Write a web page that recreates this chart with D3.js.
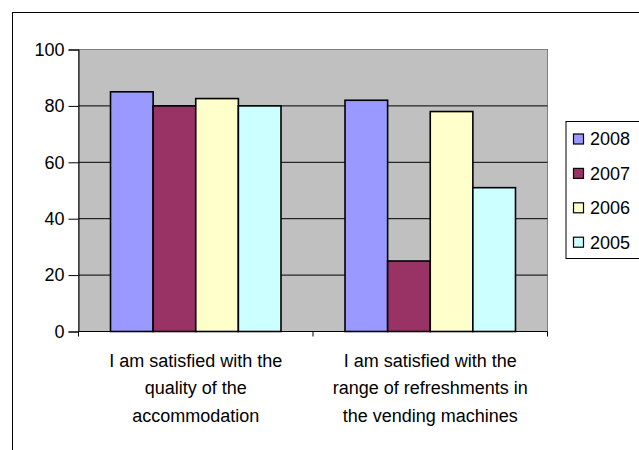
<!DOCTYPE html>
<html>
<head>
<meta charset="utf-8">
<script src="https://cdn.jsdelivr.net/npm/d3@7"></script>
<style>
	body { margin: 0; background: #fff; }
	text { font-family: Arial, "Liberation Sans", sans-serif; fill: #000; }
</style>
</head>
<body>
<div id="chart-area"></div>
<script>
// survey answers, % satisfied
var categories = ['I am satisfied with the|quality of the|accommodation',
	'I am satisfied with the|range of refreshments in|the vending machines'];
var years = ['2008', '2007', '2006', '2005'];
var values2008 = [85, 82];
var values2007 = [80, 25];
var values2006 = [82.6, 78];
var values2005 = [80, 51];
var yTicks = [0, 20, 40, 60, 80, 100];

var seriesValues = [values2008, values2007, values2006, values2005];
var colors = ['#9999FF', '#993366', '#FFFFCC', '#CCFFFF'];

var width = 639;
var height = 450;

var svg = d3.select('#chart-area')
	.append('svg')
	.attr('width', width)
	.attr('height', height);

// chart area border (runs off the picture right and bottom)
svg.append('rect')
	.attr('x', 12.5)
	.attr('y', 12.5)
	.attr('width', 700)
	.attr('height', 500)
	.attr('fill', '#fff')
	.attr('stroke', '#000')
	.attr('stroke-width', 1);

var plot = { left: 78.5, top: 49.5, right: 547.5, bottom: 331.5 };
var plotW = plot.right - plot.left;
var plotH = plot.bottom - plot.top;

var x0 = d3.scaleBand()
	.domain(categories)
	.range([0, plotW])
	.paddingInner(0.273)
	.paddingOuter(0.1365);

var x1 = d3.scaleBand()
	.domain(years)
	.range([0, x0.bandwidth()]);

var y = d3.scaleLinear()
	.domain([0, 100])
	.range([plotH, 0]);

var g = svg.append('g')
	.attr('transform', 'translate(' + plot.left + ',' + plot.top + ')');

g.append('rect')
	.attr('width', plotW)
	.attr('height', plotH)
	.attr('fill', '#C0C0C0')
	.attr('stroke', '#808080')
	.attr('stroke-width', 1);

// gridlines
g.append('g')
	.selectAll('line')
	.data(yTicks.filter(d => d > 0 && d < 100))
	.enter()
		.append('line')
		.attr('x1', 0)
		.attr('x2', plotW)
		.attr('y1', d => y(d))
		.attr('y2', d => y(d))
		.attr('stroke', '#000')
		.attr('stroke-width', 1);

// bars
var table = categories.map((c, i) => ({
	category: c,
	bars: years.map((yr, j) => ({ year: yr, value: seriesValues[j][i], color: colors[j] }))
}));

g.append('g')
	.selectAll('g')
	.data(table)
	.enter()
		.append('g')
		.attr('transform', d => 'translate(' + x0(d.category) + ',0)')
		.selectAll('rect')
		.data(d => d.bars)
		.enter()
			.append('rect')
			.attr('x', d => x1(d.year))
			.attr('y', d => y(d.value))
			.attr('width', x1.bandwidth())
			.attr('height', d => plotH - y(d.value))
			.attr('fill', d => d.color)
			.attr('stroke', '#000')
			.attr('stroke-width', 1.6);

// y axis
var yAxis = d3.axisLeft(y)
	.tickValues(yTicks)
	.tickSize(10)
	.tickPadding(4)
	.tickFormat(d3.format('d'));

var yG = g.append('g').call(yAxis);
yG.select('.domain').attr('stroke', '#000');
yG.selectAll('text')
	.attr('font-size', 18)
	.attr('font-family', 'Arial, "Liberation Sans", sans-serif');

// x axis: ticks at category boundaries
var boundaries = d3.range(categories.length + 1).map(i => i * x0.step());
g.append('line')
	.attr('x1', 0)
	.attr('x2', plotW)
	.attr('y1', plotH)
	.attr('y2', plotH)
	.attr('stroke', '#000');
g.append('g')
	.selectAll('line')
	.data(boundaries)
	.enter()
		.append('line')
		.attr('x1', d => d)
		.attr('x2', d => d)
		.attr('y1', plotH)
		.attr('y2', plotH + 5)
		.attr('stroke', '#000');

// category labels
g.append('g')
	.selectAll('text')
	.data(categories)
	.enter()
		.append('text')
		.attr('text-anchor', 'middle')
		.attr('font-size', 18)
		.attr('transform', d => 'translate(' + (x0(d) + x0.bandwidth() / 2) + ',' + (plotH + 35) + ')')
		.selectAll('tspan')
		.data(d => d.split('|'))
		.enter()
			.append('tspan')
			.attr('x', 0)
			.attr('y', (d, i) => i * 27.5)
			.text(d => d);

// legend
var legend = svg.append('g')
	.attr('transform', 'translate(566,121.5)');

legend.append('rect')
	.attr('x', 0)
	.attr('width', 90)
	.attr('height', 137)
	.attr('fill', '#fff')
	.attr('stroke', '#000');

var item = legend.selectAll('.item')
	.data(years)
	.enter()
		.append('g')
		.attr('class', 'item')
		.attr('transform', (d, i) => 'translate(0,' + (17.5 + i * 34.4) + ')');

item.append('rect')
	.attr('x', 7.5)
	.attr('y', -5)
	.attr('width', 10)
	.attr('height', 10)
	.attr('fill', (d, i) => colors[i])
	.attr('stroke', '#000')
	.attr('stroke-width', 1.2);

item.append('text')
	.attr('x', 24)
	.attr('dy', '0.36em')
	.attr('font-size', 18)
	.text(d => d);
</script>
</body>
</html>
